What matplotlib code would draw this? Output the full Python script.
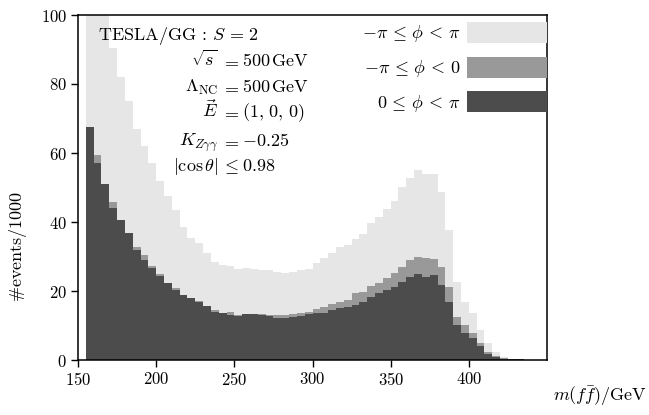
import numpy as np
import matplotlib
matplotlib.use("Agg")
import matplotlib.pyplot as plt
from matplotlib.patches import Patch

plt.rcParams['mathtext.fontset'] = 'cm'
plt.rcParams['font.family'] = 'serif'
plt.rcParams['font.serif'] = ['cmr10', 'DejaVu Serif']
plt.rcParams['axes.formatter.use_mathtext'] = True

# lower bin edges in GeV (5 GeV bins)
binLo = [155, 160, 165, 170, 175, 180, 185, 190, 195, 200,
         205, 210, 215, 220, 225, 230, 235, 240, 245, 250,
         255, 260, 265, 270, 275, 280, 285, 290, 295, 300,
         305, 310, 315, 320, 325, 330, 335, 340, 345, 350,
         355, 360, 365, 370, 375, 380, 385, 390, 395, 400,
         405, 410, 415, 420, 425, 430, 435, 440]

# -pi <= phi < pi  (all events)
allPhi = [132, 116, 103, 90.3, 82, 75, 67, 62, 57, 52,
          47.5, 43.5, 38.5, 35.5, 34, 31, 28.5, 27.5, 27.2, 26.5,
          26.6, 26.5, 26, 26, 25.5, 25.3, 25.5, 26, 26.5, 28,
          29.5, 31, 32.7, 33.3, 35, 36.5, 39.6, 41.5, 43.7, 46,
          50, 52.7, 55.1, 53.9, 53.9, 48.8, 37.7, 22.7, 16.9, 13.5,
          8.7, 4.8, 2.4, 1.0, 0.4, 0.2, 0.1, 0.05]

# -pi <= phi < 0
negPhi = [66, 59.4, 50.5, 45.9, 40, 36.5, 32.8, 30.4, 27.3, 24.8,
          22.2, 20.8, 18.5, 17.6, 17.2, 15.4, 14.5, 13.3, 14.0, 13.0,
          13.2, 13.4, 13.3, 13.0, 12.9, 13.0, 13.3, 13.5, 14.0, 14.8,
          15.5, 16.2, 16.9, 17.4, 19.3, 19.8, 21.4, 22.2, 23.7, 25.3,
          27.0, 29.0, 29.9, 29.6, 29.4, 27.0, 21.3, 12.6, 10.1, 7.7,
          5.0, 2.3, 1.1, 0.5, 0.3, 0.15, 0.08, 0.04]

# 0 <= phi < pi
posPhi = [67.6, 57.0, 51.0, 44.0, 40.6, 36.9, 31.9, 29.0, 26.6, 24.3,
          22.4, 20.3, 18.8, 17.9, 16.9, 15.6, 14.0, 13.5, 13.0, 12.7,
          13.2, 13.3, 13.0, 12.7, 12.3, 12.3, 12.5, 12.8, 13.3, 13.5,
          13.5, 14.5, 15.0, 15.5, 15.9, 16.9, 18.4, 19.3, 20.3, 21.3,
          22.7, 24.2, 24.9, 24.2, 24.5, 21.7, 16.9, 10.1, 7.7, 6.3,
          4.0, 1.8, 0.8, 0.4, 0.3, 0.15, 0.08, 0.04]

labels = [r'$-\pi \,\leq\, \phi \,<\, \pi$', r'$-\pi \,\leq\, \phi \,<\, 0$',
          r'$0 \,\leq\, \phi \,<\, \pi$']
colors = ['#e6e6e6', '#999999', '#4c4c4c']

edges = np.append(binLo, binLo[-1] + 5)

fig = plt.figure(figsize=(6.49, 4.15), dpi=100)
ax = fig.add_axes([78/649, 1 - 360/415, 469/649, 345/415])

for vals, col in zip([allPhi, negPhi, posPhi], colors):
    ax.stairs(vals, edges, fill=True, color=col, linewidth=0)

ax.set_xlim(150, 450)
ax.set_ylim(0, 100)
ax.set_xticks([150, 200, 250, 300, 350, 400])
ax.set_yticks([0, 20, 40, 60, 80, 100])
ax.tick_params(direction='out', length=5, width=1, labelsize=12, pad=3)
for s in ax.spines.values():
    s.set_linewidth(1.1)

ax.set_ylabel(r'$\#\mathrm{events}/1000$', fontsize=13)
ax.yaxis.set_label_coords(-0.105, 0.33)
ax.set_xlabel(r'$m(f\bar{f})/\mathrm{GeV}$', fontsize=13)
ax.xaxis.set_label_coords(1.113, -0.07)

handles = [Patch(facecolor=c, edgecolor='none') for c in colors]
ax.legend(handles, labels, loc='upper right', bbox_to_anchor=(1, 1 - 7/345),
          frameon=False, markerfirst=False, borderpad=0, borderaxespad=0,
          handlelength=4.45, handleheight=1.4, handletextpad=0.35,
          labelspacing=0.68, fontsize=13)

def fx(px):
    return (px - 78) / 469

def fy(py):
    return (360 - py) / 345

ax.text(fx(98), fy(40), r'$\mathrm{TESLA/GG} \,:\, S \,=\, 2$', transform=ax.transAxes,
        ha='left', va='baseline', fontsize=13)

lines = [
    (66, r'$\sqrt{s}$', r'$=$', r'$500\,\mathrm{GeV}$'),
    (92, r'$\Lambda_{\mathrm{NC}}$', r'$=$', r'$500\,\mathrm{GeV}$'),
    (117, r'$\vec{E}$', r'$=$', r'$(1,\,0,\,0)$'),
    (146, r'$K_{Z\gamma\gamma}$', r'$=$', r'$-0.25$'),
    (171, r'$|\cos\theta|$', r'$\leq$', r'$0.98$'),
]
for py, lhs, rel, rhs in lines:
    ax.text(fx(218), fy(py), lhs, transform=ax.transAxes, ha='right', va='baseline', fontsize=13)
    ax.text(fx(230), fy(py), rel, transform=ax.transAxes, ha='center', va='baseline', fontsize=13)
    ax.text(fx(242), fy(py), rhs, transform=ax.transAxes, ha='left', va='baseline', fontsize=13)

fig.savefig('out.png', dpi=100)
